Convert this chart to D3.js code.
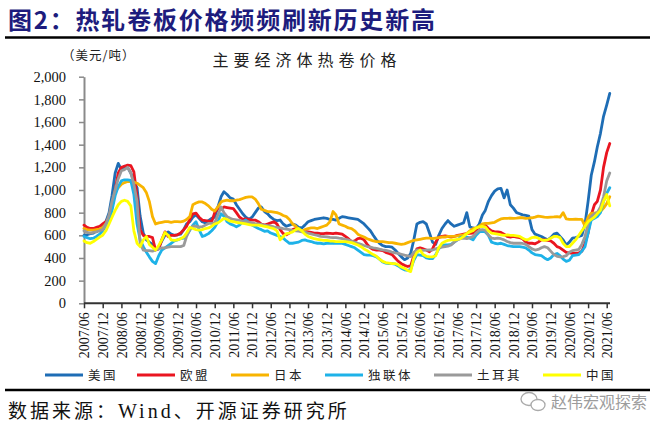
<!DOCTYPE html>
<html><head><meta charset="utf-8">
<script src="https://cdn.jsdelivr.net/npm/d3@7"></script>
<style>body{margin:0;background:#fff;} svg{display:block}</style>
</head><body>
<svg id="chart" width="665" height="430"></svg>
<script>
// ---- data (monthly, 2007/06 .. 2021/07), USD/ton ----
const tickLabels = ["2007/06","2007/12","2008/06","2008/12","2009/06","2009/12","2010/06","2010/12",
  "2011/06","2011/12","2012/06","2012/12","2013/06","2013/12","2014/06","2014/12","2015/06","2015/12",
  "2016/06","2016/12","2017/06","2017/12","2018/06","2018/12","2019/06","2019/12","2020/06","2020/12","2021/06"];
const seriesNames = ["美国","欧盟","日本","独联体","土耳其","中国"];
const yTicks = [0,200,400,600,800,1000,1200,1400,1600,1800,2000];

const us = [600,605,615,620,640,650,680,720,800,950,1150,1235,
  1180,1210,1200,1150,1080,1020,770,620,560,540,520,480,
  490,550,600,630,610,600,605,610,650,700,720,760,
  780,750,720,710,730,750,760,850,940,985,960,930,
  920,870,830,790,760,740,760,800,840,850,810,790,
  760,740,730,735,700,680,690,700,690,670,665,690,
  720,730,740,745,750,755,750,740,740,735,750,765,
  760,755,750,745,740,720,700,670,640,600,560,530,
  510,500,500,495,470,440,410,385,400,440,560,700,
  715,720,700,620,540,520,600,660,700,730,700,680,
  690,700,710,800,675,665,660,700,780,820,900,950,
  990,1010,1015,930,1000,870,840,800,790,780,775,770,
  650,610,600,590,575,560,580,610,620,590,560,515,
  540,575,580,590,600,700,900,1130,1250,1380,1500,1650,
  1750,1853];
const eu = [690,670,660,660,670,680,700,720,760,850,1000,1150,
  1200,1210,1220,1215,1160,940,650,600,590,590,580,470,
  480,560,630,590,600,600,605,620,650,680,740,790,
  795,760,735,730,725,720,800,840,830,850,845,840,
  835,800,760,740,745,740,735,735,720,700,690,700,
  710,720,700,650,615,605,620,650,660,650,640,635,
  630,625,620,620,615,615,620,618,615,620,615,610,
  590,570,545,550,570,575,560,520,490,475,470,470,
  465,450,440,430,400,370,350,335,325,330,420,480,
  490,480,470,455,480,540,585,590,595,590,585,590,
  600,605,610,615,618,620,640,670,690,690,660,640,
  630,630,625,610,590,585,590,585,580,570,540,530,
  530,525,540,560,560,555,550,530,500,490,470,450,
  445,440,440,445,460,530,620,780,870,900,1000,1200,
  1330,1410];
const japan = [660,650,645,645,650,655,670,700,740,850,990,1020,
  1050,1065,1075,1075,1070,1060,1040,1020,975,900,765,700,
  710,715,720,720,715,720,720,718,725,740,765,870,
  885,895,895,880,860,830,815,850,895,905,910,905,
  905,910,915,925,935,940,940,920,880,830,820,810,
  810,805,800,790,775,765,740,700,680,650,635,650,
  660,665,665,660,670,680,690,720,810,780,700,690,
  680,665,660,640,610,595,585,570,560,550,545,545,
  545,540,535,535,530,525,520,525,535,545,555,560,
  565,570,575,575,570,575,580,585,585,590,590,590,
  595,600,605,615,640,660,665,680,700,705,705,710,
  715,730,745,750,750,752,750,752,755,755,750,752,
  755,760,770,765,760,758,760,762,765,760,800,745,
  740,740,742,740,740,680,760,795,795,800,810,840,
  880,940];
const cis = [590,580,570,575,590,610,640,680,720,820,950,1030,
  1080,1090,1090,1085,960,700,560,500,450,410,370,350,
  420,470,490,510,530,550,560,570,575,600,645,690,
  720,650,590,600,615,640,670,720,790,770,720,700,
  690,675,690,720,735,710,690,675,660,650,635,640,
  620,610,600,590,575,550,530,530,535,540,555,560,
  550,545,535,530,530,525,530,530,528,530,530,528,
  520,510,500,490,470,450,430,425,425,420,410,390,
  365,355,350,350,345,330,310,295,290,300,380,430,
  425,420,400,395,395,430,480,510,515,515,520,540,
  560,580,590,585,575,560,600,630,635,630,600,540,
  530,525,530,520,510,505,500,500,500,495,490,470,
  445,430,425,420,400,385,400,430,440,420,390,370,
  380,420,425,430,460,500,620,735,750,765,800,900,
  970,1020];
const turkey = [640,625,620,625,630,640,650,700,780,900,1000,1100,
  1170,1180,1200,1150,1050,900,530,470,465,465,460,470,
  480,490,490,495,500,500,500,500,510,590,650,680,
  680,675,675,690,705,705,710,780,850,800,765,750,
  740,736,731,724,720,716,709,704,700,696,689,685,
  681,674,670,666,659,655,651,644,640,636,630,628,
  620,613,605,599,590,588,586,581,580,579,575,572,
  565,559,550,541,530,521,510,501,495,489,485,478,
  472,467,460,452,446,441,433,425,418,412,450,472,
  470,468,470,472,470,480,490,495,500,505,515,540,
  560,570,575,570,580,590,620,645,650,645,600,575,
  570,575,570,560,545,535,530,530,530,528,520,500,
  480,470,475,490,500,490,460,430,415,410,412,420,
  450,465,470,475,520,590,700,765,790,800,850,940,
  1080,1150];
const china = [550,535,530,545,565,585,600,640,700,760,820,870,
  900,910,900,860,640,530,500,560,590,520,495,470,
  510,560,625,600,560,555,560,570,585,620,670,660,
  650,645,650,660,665,680,700,710,730,750,740,725,
  720,715,710,705,700,695,690,690,690,685,680,675,
  665,660,640,560,590,615,620,630,650,660,640,610,
  590,580,570,565,560,555,555,550,548,545,545,544,
  545,540,535,525,515,500,480,465,445,430,415,390,
  370,360,355,350,350,340,320,308,290,280,400,450,
  470,430,415,410,410,420,490,530,545,555,560,560,
  565,570,590,615,630,640,665,675,680,675,640,620,
  615,610,605,600,605,600,600,595,590,575,560,565,
  580,585,575,560,555,560,575,590,590,580,530,500,
  500,530,560,600,640,680,720,740,760,790,820,900,
  960,860];

const seriesValues = [us, eu, japan, cis, turkey, china];
const seriesColors = ["#1e6db5","#ea1520","#f8b400","#1eb2e8","#9a9a9a","#ffff00"];

// ---- drawing ----
const svg = d3.select("#chart");
const months = d3.timeMonth.range(new Date(2007,5,1), new Date(2021,7,1));
const parseTick = d3.timeParse("%Y/%m");
const tickDates = tickLabels.map(parseTick);

const x = d3.scaleTime().domain([tickDates[0], tickDates[tickDates.length-1]]).range([84, 606.7]);
const y = d3.scaleLinear().domain([0, 2000]).range([303.3, 76.7]);

const CJK = "'Noto Sans CJK SC', sans-serif";
const SERIF = "'Liberation Serif', 'DejaVu Serif', serif";

// title
svg.append("text").attr("x", 8).attr("y", 29)
  .attr("font-family", CJK).attr("font-weight", "bold").attr("font-size", 24)
  .attr("letter-spacing", 1.8).attr("fill", "#1d1c7d")
  .text("图2：热轧卷板价格频频刷新历史新高");
svg.append("line").attr("x1", 5).attr("x2", 650).attr("y1", 37.5).attr("y2", 37.5)
  .attr("stroke", "#000").attr("stroke-width", 2.5);

// unit and chart title
svg.append("text").attr("x", 62).attr("y", 60)
  .attr("font-family", CJK).attr("font-size", 12.5).attr("letter-spacing", 1).attr("fill", "#222")
  .text("（美元/吨）");
svg.append("text").attr("x", 307).attr("y", 66).attr("text-anchor", "middle")
  .attr("font-family", CJK).attr("font-size", 16).attr("letter-spacing", 5).attr("fill", "#222")
  .text("主要经济体热卷价格");

// y axis
const yAxis = svg.append("g").attr("transform", "translate(84,0)")
  .call(d3.axisLeft(y).tickValues(yTicks).tickFormat(d3.format(",")).tickSize(5).tickSizeOuter(0).tickPadding(13));
yAxis.select(".domain").attr("stroke", "#8a8a8a").attr("stroke-width", 2);
yAxis.selectAll(".tick line").attr("stroke", "#8a8a8a").attr("stroke-width", 1.5);
yAxis.selectAll("text").attr("font-family", SERIF).attr("font-size", 14.5).attr("fill", "#111");

// series lines
const line = d3.line().x((d, i) => x(months[i])).y(d => y(d)).curve(d3.curveLinear);
const plot = svg.append("g");
seriesValues.forEach((vals, k) => {
  plot.append("path").datum(vals).attr("d", line)
    .attr("fill", "none").attr("stroke", seriesColors[k]).attr("stroke-width", 2.8)
    .attr("stroke-linejoin", "round").attr("stroke-linecap", "round");
});

// x axis
const xAxis = svg.append("g").attr("transform", "translate(0,303.3)")
  .call(d3.axisBottom(x).tickValues(tickDates).tickFormat((d, i) => tickLabels[i]).tickSize(5).tickSizeOuter(0));
xAxis.select(".domain").remove();
xAxis.append("line").attr("x1", 84).attr("x2", 610).attr("y1", 0).attr("y2", 0)
  .attr("stroke", "#333").attr("stroke-width", 2);
xAxis.selectAll(".tick line").attr("stroke", "#333").attr("stroke-width", 1.5);
xAxis.selectAll(".tick text")
  .attr("transform", "rotate(-90)").attr("x", -9).attr("y", 0).attr("dy", "0.35em")
  .style("text-anchor", "end")
  .attr("font-family", SERIF).attr("font-size", 14).attr("fill", "#111");

// legend
const legendPos = [45, 137, 231, 325, 434, 543];
const lg = svg.append("g");
seriesNames.forEach((name, k) => {
  const g = lg.append("g").attr("transform", `translate(${legendPos[k]},375)`);
  g.append("line").attr("x1", 0).attr("x2", 38).attr("y1", 0).attr("y2", 0)
    .attr("stroke", seriesColors[k]).attr("stroke-width", 3);
  g.append("text").attr("x", 43).attr("y", 4.5)
    .attr("font-family", CJK).attr("font-size", 12.5).attr("letter-spacing", 2.5).attr("fill", "#222")
    .text(name);
});
svg.append("line").attr("x1", 5).attr("x2", 650).attr("y1", 390).attr("y2", 390)
  .attr("stroke", "#000").attr("stroke-width", 2.5);

// source
const src = svg.append("text").attr("x", 8).attr("y", 418)
  .attr("font-family", CJK).attr("font-size", 19).attr("letter-spacing", 3).attr("fill", "#111");
src.append("tspan").text("数据来源：");
src.append("tspan").attr("font-family", SERIF).attr("font-size", 20).text("Wind");
src.append("tspan").text("、开源证券研究所");

// watermark
const wm = svg.append("g").attr("fill", "none").attr("stroke", "#aaa").attr("stroke-width", 1.3);
wm.append("ellipse").attr("cx", 529).attr("cy", 399).attr("rx", 8).attr("ry", 6.5);
wm.append("ellipse").attr("cx", 538).attr("cy", 405).attr("rx", 7).attr("ry", 5.5).attr("fill", "#fff");
svg.append("text").attr("x", 551).attr("y", 408)
  .attr("font-family", CJK).attr("font-size", 16).attr("fill", "#9c9c9c")
  .text("赵伟宏观探索");
</script>
</body></html>
